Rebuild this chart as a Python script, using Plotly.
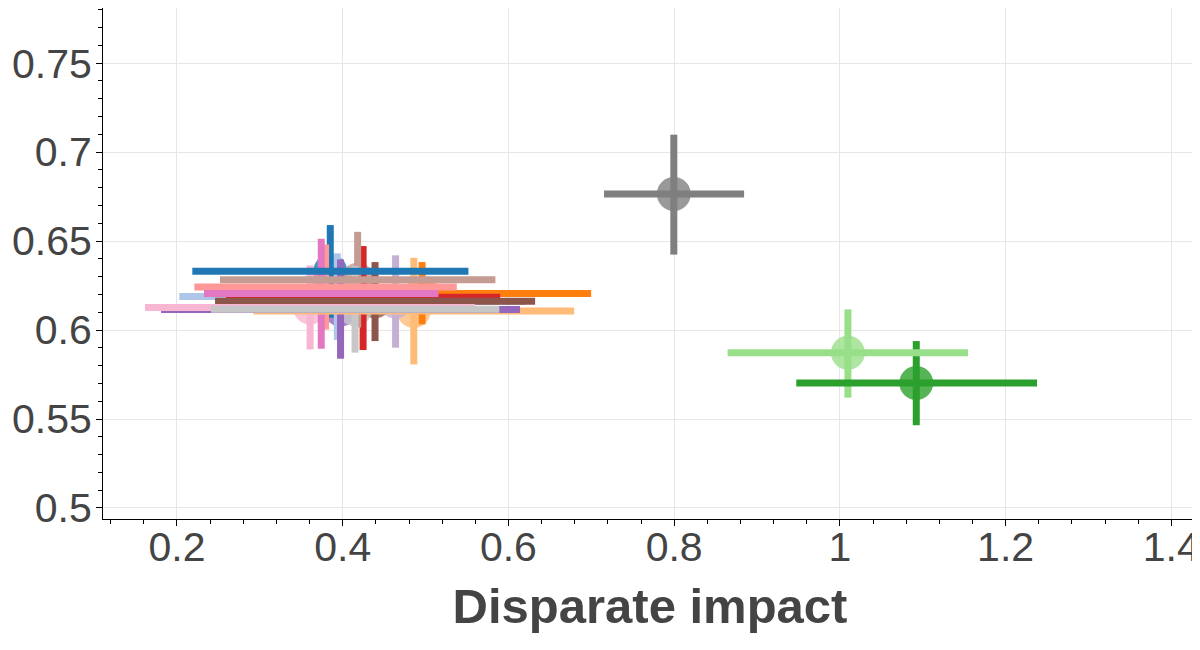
import plotly.graph_objects as go

# one point per model, tab20 colours in draw order
colors = [
    "#1f77b4", "#aec7e8", "#ff7f0e", "#ffbb78",
    "#2ca02c", "#98df8a", "#d62728", "#ff9896",
    "#9467bd", "#c5b0d5", "#8c564b", "#c49c94",
    "#e377c2", "#f7b6d2", "#7f7f7f", "#c7c7c7",
]
x_mean = [0.385, 0.3935, 0.4958, 0.4858, 1.0922, 1.0097, 0.4246, 0.3793,
          0.3974, 0.4638, 0.439, 0.418, 0.3741, 0.3606, 0.7996, 0.4149]
y_mean = [0.633, 0.6188, 0.6206, 0.6107, 0.5702, 0.5872, 0.6185, 0.6242,
          0.6115, 0.616, 0.6162, 0.6283, 0.6205, 0.6127, 0.6765, 0.6117]
x_low = [0.2185, 0.2028, 0.2918, 0.2921, 0.9474, 0.8645, 0.2592, 0.2209,
         0.1807, 0.30, 0.2459, 0.2519, 0.2326, 0.1614, 0.7154, 0.241]
x_high = [0.5517, 0.584, 0.6998, 0.6793, 1.2379, 1.1546, 0.59, 0.5377,
          0.614, 0.62, 0.6322, 0.5843, 0.5155, 0.5598, 0.8844, 0.589]
y_low = [0.6069, 0.5944, 0.6032, 0.5807, 0.5465, 0.562, 0.5888, 0.6003,
         0.5839, 0.5901, 0.5938, 0.6014, 0.5895, 0.5891, 0.6424, 0.5873]
y_high = [0.659, 0.6431, 0.6382, 0.6406, 0.5938, 0.6116, 0.6472, 0.6481,
          0.6397, 0.642, 0.6382, 0.6552, 0.6513, 0.6363, 0.7098, 0.636]

FONT = "Liberation Sans, Arial, Helvetica, sans-serif"
BAR_W = 7

fig = go.Figure()

# circles first, bars go on top of them
fig.add_trace(go.Scatter(
    x=x_mean, y=y_mean, mode="markers",
    marker=dict(size=34, color=colors, opacity=0.8, line=dict(width=0)),
    showlegend=False, hoverinfo="skip",
))

# all vertical bars, then all horizontal bars
for i, c in enumerate(colors):
    fig.add_trace(go.Scatter(
        x=[x_mean[i], x_mean[i]], y=[y_low[i], y_high[i]], mode="lines",
        line=dict(color=c, width=BAR_W), showlegend=False, hoverinfo="skip",
    ))
for i, c in enumerate(colors):
    fig.add_trace(go.Scatter(
        x=[x_low[i], x_high[i]], y=[y_mean[i], y_mean[i]], mode="lines",
        line=dict(color=c, width=BAR_W), showlegend=False, hoverinfo="skip",
    ))

axis_common = dict(
    showline=True, linecolor="black", linewidth=1,
    ticks="outside", ticklen=6, tickcolor="black", tickwidth=1,
    showgrid=True, gridcolor="#e6e6e6", gridwidth=1,
    zeroline=False, automargin=False, ticklabeloverflow="allow",
    tickfont=dict(family=FONT, size=41, color="#444444"),
)

# page body has an 8px margin, so the figure is a bit smaller than the window
fig.update_layout(
    width=1192, height=642,
    margin=dict(l=95, r=3, t=0, b=131),
    paper_bgcolor="white", plot_bgcolor="white",
    font=dict(family=FONT, color="#444444"),
    xaxis=dict(
        range=[0.1107, 1.431], tick0=0.2, dtick=0.2, ticklabelstandoff=-14,
        minor=dict(ticks="outside", ticklen=4, tickcolor="black", dtick=0.04, tick0=0.2, showgrid=False),
        title=dict(text="Disparate impact", standoff=19,
                   font=dict(family=FONT, size=49, color="#444444", weight="bold")),
        **axis_common,
    ),
    yaxis=dict(
        range=[0.4938, 0.781], tick0=0.5, dtick=0.05, ticklabelstandoff=-4,
        minor=dict(ticks="outside", ticklen=4, tickcolor="black", dtick=0.01, tick0=0.5, showgrid=False),
        **axis_common,
    ),
)

fig.write_html("out.html")
